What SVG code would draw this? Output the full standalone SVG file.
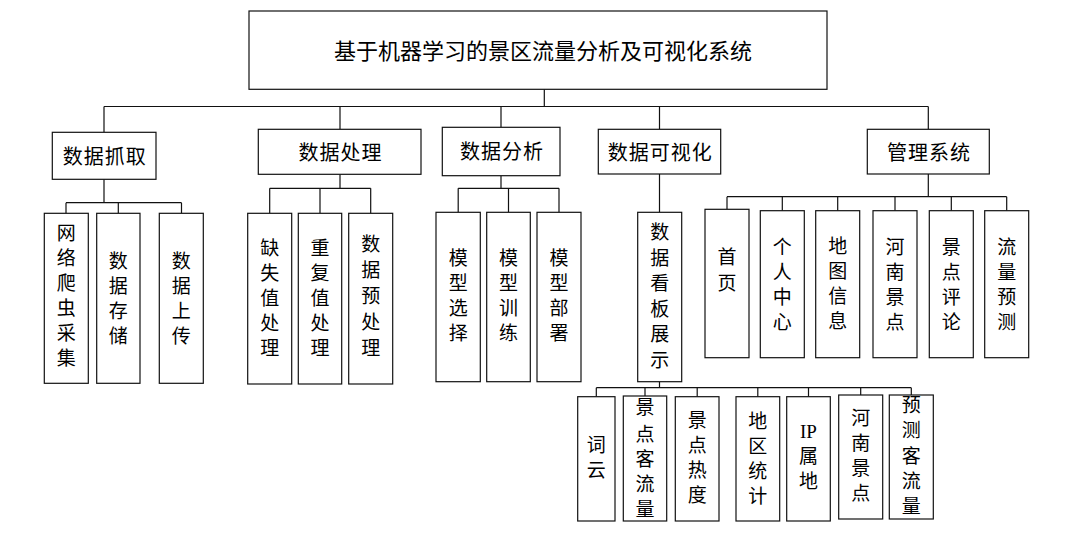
<svg xmlns="http://www.w3.org/2000/svg" width="1091" height="533" viewBox="0 0 1091 533">
<style>
.box{fill:#fff;stroke:#111;stroke-width:1.2}
.ln{fill:none;stroke:#111;stroke-width:1.2}
text{font-family:"Liberation Serif","Noto Sans CJK SC",serif;fill:#000;text-anchor:middle}
.t0{font-size:22px}
.t1{font-size:20px;letter-spacing:1px}
.t2{font-size:19px}
</style>
<rect x="0" y="0" width="1091" height="533" fill="#fff"/>
<g id="connectors" class="ln">
<path d="M544.3 89.3V106.5M104 106.5H928.3M104 106.5V132.3M340 106.5V129.3M501 106.5V127.3M659.5 106.5V129.3M928.3 106.5V129.3"/>
<path d="M104 179.3V202.7M66 202.7H181.5M66 202.7V213.3M118.3 202.7V213.3M181.5 202.7V213.3"/>
<path d="M340 174.3V188.3M269.7 188.3H370.7M269.7 188.3V213.3M320 188.3V213.3M370.7 188.3V213.3"/>
<path d="M501 175.7V188.3M458.2 188.3H559M458.2 188.3V212.3M508.5 188.3V212.3M559 188.3V212.3"/>
<path d="M659.5 174V212.3M659.5 381.7V387.7M596.3 387.7H911.3M596.3 387.7V396.7M645 387.7V396M697.2 387.7V396.7M757.8 387.7V396.7M808.5 387.7V396.7M860.7 387.7V395M911.3 387.7V395"/>
<path d="M928.3 174V196.7M727 196.7H1006.7M727 196.7V209.3M782.3 196.7V210.7M837.7 196.7V210.7M895 196.7V210.7M951.3 196.7V210.7M1006.7 196.7V210.7"/>
</g>
<g id="root"><rect class="box" x="249" y="11" width="578" height="78.3"/><text class="t0" x="543" y="58.8">基于机器学习的景区流量分析及可视化系统</text></g>
<g id="n-crawl"><rect class="box" x="52.3" y="132.3" width="103.7" height="47"/><text class="t1" x="104.7" y="163.6">数据抓取</text></g>
<g id="n-process"><rect class="box" x="258.3" y="129.3" width="162.7" height="45"/><text class="t1" x="340.5" y="159.9">数据处理</text></g>
<g id="n-analysis"><rect class="box" x="442.3" y="127.3" width="117.7" height="48.4"/><text class="t1" x="502" y="159.3">数据分析</text></g>
<g id="n-vis"><rect class="box" x="598.3" y="129.3" width="122.4" height="44.7"/><text class="t1" x="660.3" y="159.9">数据可视化</text></g>
<g id="n-admin"><rect class="box" x="867.3" y="129.3" width="122" height="44.7"/><text class="t1" x="929" y="159.9">管理系统</text></g>

<g id="l-spider"><rect class="box" x="44.3" y="213.3" width="44" height="170"/><text class="t2"><tspan x="66.3" y="240.2">网</tspan><tspan x="66.3" y="265.2">络</tspan><tspan x="66.3" y="290.2">爬</tspan><tspan x="66.3" y="315.2">虫</tspan><tspan x="66.3" y="340.2">采</tspan><tspan x="66.3" y="365.2">集</tspan></text></g>
<g id="l-store"><rect class="box" x="96.7" y="213.3" width="43.3" height="170"/><text class="t2"><tspan x="118.3" y="267.7">数</tspan><tspan x="118.3" y="292.7">据</tspan><tspan x="118.3" y="317.7">存</tspan><tspan x="118.3" y="342.7">储</tspan></text></g>
<g id="l-upload"><rect class="box" x="159.3" y="213.3" width="44" height="170"/><text class="t2"><tspan x="181.3" y="267.7">数</tspan><tspan x="181.3" y="292.7">据</tspan><tspan x="181.3" y="317.7">上</tspan><tspan x="181.3" y="342.7">传</tspan></text></g>

<g id="l-missing"><rect class="box" x="247.7" y="213.3" width="44" height="170.7"/><text class="t2"><tspan x="269.7" y="254.5">缺</tspan><tspan x="269.7" y="279.8">失</tspan><tspan x="269.7" y="304.9">值</tspan><tspan x="269.7" y="330.1">处</tspan><tspan x="269.7" y="355.4">理</tspan></text></g>
<g id="l-dup"><rect class="box" x="298.3" y="213.3" width="43.4" height="170.7"/><text class="t2"><tspan x="320" y="254.5">重</tspan><tspan x="320" y="279.8">复</tspan><tspan x="320" y="304.9">值</tspan><tspan x="320" y="330.1">处</tspan><tspan x="320" y="355.4">理</tspan></text></g>
<g id="l-pre"><rect class="box" x="348.7" y="213.3" width="44" height="170.7"/><text class="t2"><tspan x="370.7" y="251.2">数</tspan><tspan x="370.7" y="277.2">据</tspan><tspan x="370.7" y="303.2">预</tspan><tspan x="370.7" y="329.2">处</tspan><tspan x="370.7" y="355.2">理</tspan></text></g>

<g id="l-select"><rect class="box" x="436" y="212.3" width="44.3" height="169.4"/><text class="t2"><tspan x="458.2" y="265.2">模</tspan><tspan x="458.2" y="290.2">型</tspan><tspan x="458.2" y="315.2">选</tspan><tspan x="458.2" y="340.2">择</tspan></text></g>
<g id="l-train"><rect class="box" x="486.7" y="212.3" width="43.6" height="169.4"/><text class="t2"><tspan x="508.5" y="265.2">模</tspan><tspan x="508.5" y="290.2">型</tspan><tspan x="508.5" y="315.2">训</tspan><tspan x="508.5" y="340.2">练</tspan></text></g>
<g id="l-deploy"><rect class="box" x="537" y="212.3" width="44" height="169.4"/><text class="t2"><tspan x="559" y="265.2">模</tspan><tspan x="559" y="290.2">型</tspan><tspan x="559" y="315.2">部</tspan><tspan x="559" y="340.2">署</tspan></text></g>

<g id="l-dashboard"><rect class="box" x="637.7" y="212.3" width="44" height="169.4"/><text class="t2"><tspan x="659.7" y="239.2">数</tspan><tspan x="659.7" y="264.7">据</tspan><tspan x="659.7" y="290.2">看</tspan><tspan x="659.7" y="315.7">板</tspan><tspan x="659.7" y="341.2">展</tspan><tspan x="659.7" y="366.7">示</tspan></text></g>

<g id="m-home"><rect class="box" x="705" y="209.3" width="44" height="148.4"/><text class="t2"><tspan x="727" y="264.2">首</tspan><tspan x="727" y="289.9">页</tspan></text></g>
<g id="m-user"><rect class="box" x="760.3" y="210.7" width="44" height="147"/><text class="t2"><tspan x="782.3" y="254.2">个</tspan><tspan x="782.3" y="279.2">人</tspan><tspan x="782.3" y="304.2">中</tspan><tspan x="782.3" y="329.2">心</tspan></text></g>
<g id="m-map"><rect class="box" x="815.7" y="210.7" width="44" height="147"/><text class="t2"><tspan x="837.7" y="253.2">地</tspan><tspan x="837.7" y="278.2">图</tspan><tspan x="837.7" y="303.2">信</tspan><tspan x="837.7" y="328.2">息</tspan></text></g>
<g id="m-henan"><rect class="box" x="873" y="210.7" width="44" height="147"/><text class="t2"><tspan x="895" y="254.2">河</tspan><tspan x="895" y="279.2">南</tspan><tspan x="895" y="304.2">景</tspan><tspan x="895" y="329.2">点</tspan></text></g>
<g id="m-comment"><rect class="box" x="929.3" y="210.7" width="44" height="147"/><text class="t2"><tspan x="951.3" y="254.2">景</tspan><tspan x="951.3" y="279.2">点</tspan><tspan x="951.3" y="304.2">评</tspan><tspan x="951.3" y="329.2">论</tspan></text></g>
<g id="m-forecast"><rect class="box" x="984.7" y="210.7" width="44" height="147"/><text class="t2"><tspan x="1006.7" y="254.2">流</tspan><tspan x="1006.7" y="279.2">量</tspan><tspan x="1006.7" y="304.2">预</tspan><tspan x="1006.7" y="329.2">测</tspan></text></g>

<g id="d-cloud"><rect class="box" x="577.7" y="396.7" width="37.3" height="124.3"/><text class="t2"><tspan x="596.3" y="452.2">词</tspan><tspan x="596.3" y="476.5">云</tspan></text></g>
<g id="d-flow"><rect class="box" x="623.3" y="396" width="43.4" height="125"/><text class="t2"><tspan x="645" y="414.2">景</tspan><tspan x="645" y="440.7">点</tspan><tspan x="645" y="465.7">客</tspan><tspan x="645" y="490.7">流</tspan><tspan x="645" y="515.7">量</tspan></text></g>
<g id="d-heat"><rect class="box" x="675.3" y="396.7" width="43.7" height="124.3"/><text class="t2"><tspan x="697.2" y="427.2">景</tspan><tspan x="697.2" y="452.2">点</tspan><tspan x="697.2" y="477.2">热</tspan><tspan x="697.2" y="502.2">度</tspan></text></g>
<g id="d-region"><rect class="box" x="736" y="396.7" width="43.7" height="124.3"/><text class="t2"><tspan x="757.8" y="428.2">地</tspan><tspan x="757.8" y="453.2">区</tspan><tspan x="757.8" y="478.2">统</tspan><tspan x="757.8" y="503.2">计</tspan></text></g>
<g id="d-ip"><rect class="box" x="786.7" y="396.7" width="43.6" height="124.3"/><text class="t2"><tspan x="808.5" y="438.2">IP</tspan><tspan x="808.5" y="463.2">属</tspan><tspan x="808.5" y="488.2">地</tspan></text></g>
<g id="d-henan"><rect class="box" x="838.7" y="395" width="44" height="124"/><text class="t2"><tspan x="860.7" y="425.2">河</tspan><tspan x="860.7" y="450.2">南</tspan><tspan x="860.7" y="475.2">景</tspan><tspan x="860.7" y="500.2">点</tspan></text></g>
<g id="d-predict"><rect class="box" x="889.3" y="395" width="44" height="124"/><text class="t2"><tspan x="911.3" y="412.2">预</tspan><tspan x="911.3" y="437.2">测</tspan><tspan x="911.3" y="463.2">客</tspan><tspan x="911.3" y="488.2">流</tspan><tspan x="911.3" y="513.2">量</tspan></text></g>
</svg>
